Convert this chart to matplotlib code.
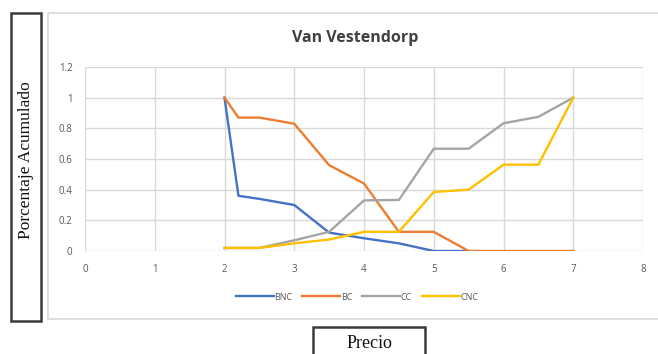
import matplotlib
matplotlib.use("Agg")
import matplotlib.pyplot as plt
from matplotlib.patches import Rectangle

# Price points and cumulative shares for each Van Westendorp series
bnc_x = [2, 2.2, 2.5, 3, 3.5, 4, 4.5, 5, 5.5]
bnc = [1.0, 0.36, 0.34, 0.30, 0.12, 0.083, 0.05, 0.0, 0.0]
bc_x = [2, 2.2, 2.5, 3, 3.5, 4, 4.5, 5, 5.5, 6, 6.5, 7]
bc = [1.0, 0.87, 0.87, 0.83, 0.56, 0.44, 0.125, 0.125, 0.0, 0.0, 0.0, 0.0]
cc_x = [2, 2.5, 3, 3.5, 4, 4.5, 5, 5.5, 6, 6.5, 7]
cc = [0.02, 0.02, 0.07, 0.125, 0.33, 0.333, 0.667, 0.667, 0.833, 0.875, 1.0]
cnc_x = [2, 2.5, 3, 3.5, 4, 4.5, 5, 5.5, 6, 6.5, 7]
cnc = [0.02, 0.02, 0.05, 0.075, 0.125, 0.125, 0.385, 0.40, 0.563, 0.563, 1.0]

series = [("BNC", bnc_x, bnc, "#4472C4"),
          ("BC", bc_x, bc, "#ED7D31"),
          ("CC", cc_x, cc, "#A5A5A5"),
          ("CNC", cnc_x, cnc, "#FFC000")]

x_ticks = [0, 1, 2, 3, 4, 5, 6, 7, 8]
y_ticks = [0, 0.2, 0.4, 0.6, 0.8, 1.0, 1.2]
y_labels = ["0", "0.2", "0.4", "0.6", "0.8", "1", "1.2"]

W, H = 658, 354
fig = plt.figure(figsize=(W / 100, H / 100), dpi=100)
fig.patch.set_facecolor("white")


def fx(px):
    return px / W


def fy(py):
    return 1 - py / H


# chart frame
fig.patches.append(Rectangle((fx(48), fy(319)), fx(662) - fx(48), fy(13) - fy(319),
                             transform=fig.transFigure, facecolor="white",
                             edgecolor="#d9d9d9", linewidth=1.2, zorder=0))

ax = fig.add_axes([fx(85), fy(251), fx(643) - fx(85), fy(67) - fy(251)])
ax.set_zorder(2)
ax.patch.set_alpha(0)
for name, xs, ys, col in series:
    ax.plot(xs, ys, color=col, linewidth=1.7, label=name, zorder=3)

ax.set_xlim(0, 8)
ax.set_ylim(0, 1.2)
ax.set_xticks(x_ticks)
ax.set_yticks(y_ticks)
ax.set_yticklabels(y_labels)
ax.grid(True, color="#d9d9d9", linewidth=1.0)
ax.set_axisbelow(True)
for s in ax.spines.values():
    s.set_visible(False)
ax.tick_params(length=0, labelsize=7, labelcolor="#595959", pad=9)
for lab in ax.get_xticklabels() + ax.get_yticklabels():
    lab.set_family("Open Sans")

fig.text(fx(355), fy(38), "Van Vestendorp", ha="center", va="center",
         fontsize=11.5, fontweight="bold", color="#404040", family="Open Sans",
         zorder=3)

leg = fig.legend(loc="center", bbox_to_anchor=(fx(357), fy(297)), ncol=4,
                 frameon=False, handlelength=4.2, columnspacing=1.1,
                 handletextpad=0.05, prop={"family": "Open Sans", "size": 6.5})
leg.set_zorder(3)
for t in leg.get_texts():
    t.set_color("#595959")

# axis-title boxes
fig.patches.append(Rectangle((fx(11), fy(321)), fx(41) - fx(11), fy(13) - fy(321),
                             transform=fig.transFigure, facecolor="white",
                             edgecolor="#3a3a3a", linewidth=1.8, zorder=1))
fig.text(fx(26.5), fy(160), "Porcentaje Acumulado", rotation=90, ha="center",
         va="center", fontsize=12.5, family="Liberation Serif", color="#111111",
         zorder=3)

fig.patches.append(Rectangle((fx(313), fy(360)), fx(425) - fx(313), fy(327) - fy(360),
                             transform=fig.transFigure, facecolor="white",
                             edgecolor="#3a3a3a", linewidth=1.8, zorder=1))
fig.text(fx(369), fy(343), "Precio", ha="center", va="center",
         fontsize=13, family="Liberation Serif", color="#111111", zorder=3)

fig.savefig("out.png", dpi=100)
